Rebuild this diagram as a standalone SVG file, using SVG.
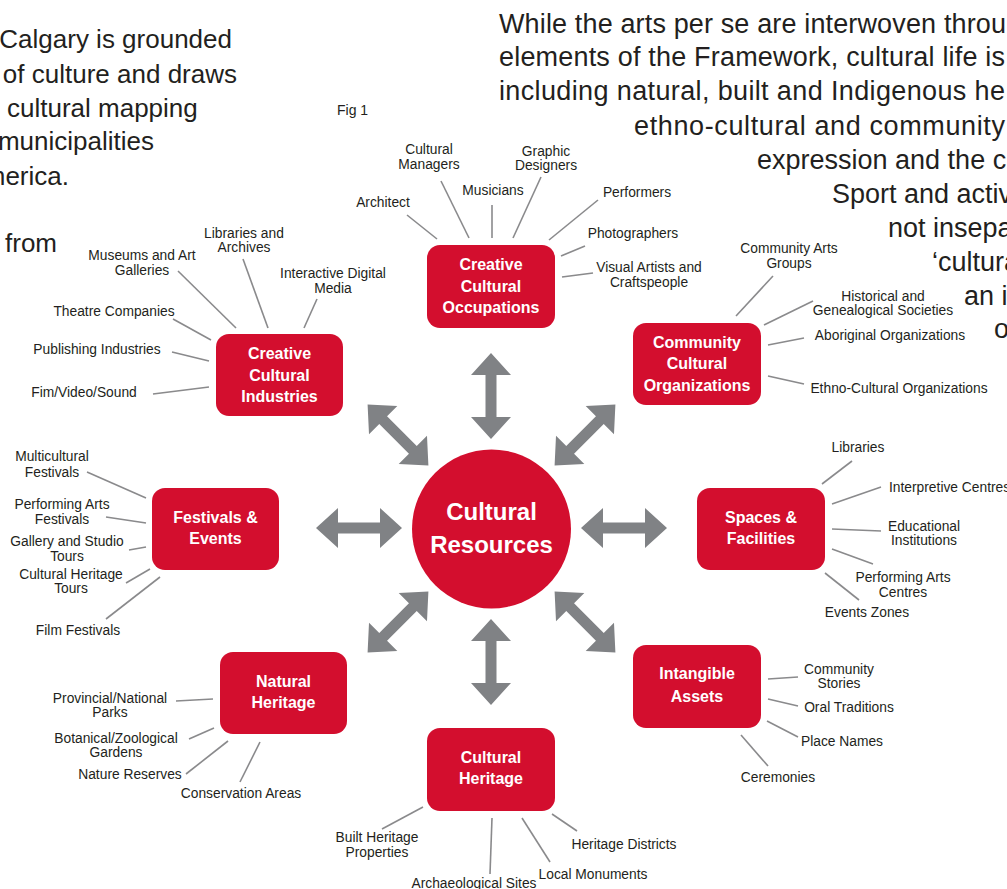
<svg xmlns="http://www.w3.org/2000/svg" width="1007" height="889" viewBox="0 0 1007 889">
<defs>
<style>
.body{font-family:"Liberation Sans",Arial,sans-serif;font-size:26px;fill:#231f20}
.bodyr{font-family:"Liberation Sans",Arial,sans-serif;font-size:27px;fill:#231f20}
.fig{font-family:"Liberation Sans",Arial,sans-serif;font-size:14px;fill:#231f20}
.lbl{font-family:"Liberation Sans",Arial,sans-serif;font-size:13.8px;fill:#231f20;text-anchor:middle}
.node rect{fill:#d30e2e}
.node circle{fill:#d30e2e}
.ntxt{font-family:"Liberation Sans",Arial,sans-serif;font-weight:bold;font-size:16px;fill:#fff;text-anchor:middle}
.ctxt{font-family:"Liberation Sans",Arial,sans-serif;font-weight:bold;font-size:24px;fill:#fff;text-anchor:middle}
.conn line{stroke:#8a8a8c;stroke-width:1.6}
.arr use{fill:#808285}
</style>
<polygon id="dbl" points="-43,0 -21,-20 -21,-5.5 21,-5.5 21,-20 43,0 21,20 21,5.5 -21,5.5 -21,20"/>
</defs>
<rect width="1007" height="889" fill="#fff"/>

<g id="body-text-left">
<text class="body" x="232" y="48" text-anchor="end">Calgary is grounded</text>
<text class="body" x="237" y="83" text-anchor="end">of culture and draws</text>
<text class="body" x="7" y="117">cultural mapping</text>
<text class="body" x="154" y="150" text-anchor="end">municipalities</text>
<text class="body" x="69" y="185" text-anchor="end">merica.</text>
<text class="body" x="5" y="252">from</text>
</g>

<g id="body-text-right">
<text class="bodyr" x="499" y="33" textLength="507">While the arts per se are interwoven throu</text>
<text class="bodyr" x="499" y="66" textLength="506">elements of the Framework, cultural life is</text>
<text class="bodyr" x="499" y="100" textLength="506">including natural, built and Indigenous he</text>
<text class="bodyr" x="634" y="135" textLength="371">ethno-cultural and community</text>
<text class="bodyr" x="757" y="169">expression and the c</text>
<text class="bodyr" x="832" y="203">Sport and activ</text>
<text class="bodyr" x="888" y="237">not insepa</text>
<text class="bodyr" x="932" y="271">‘cultura</text>
<text class="bodyr" x="964" y="305">an i</text>
<text class="bodyr" x="994" y="338">o</text>
</g>

<text id="fig-label" class="fig" x="337" y="115">Fig 1</text>

<g id="connectors" class="conn">
<line x1="407" y1="215" x2="437" y2="239"/>
<line x1="441" y1="181" x2="469" y2="238"/>
<line x1="492" y1="205" x2="492" y2="238"/>
<line x1="541" y1="177" x2="513" y2="238"/>
<line x1="598" y1="200" x2="549" y2="240"/>
<line x1="585" y1="246" x2="561" y2="256"/>
<line x1="593" y1="273" x2="562" y2="277"/>

<line x1="178" y1="271" x2="236" y2="328"/>
<line x1="243" y1="259" x2="268" y2="328"/>
<line x1="317" y1="299" x2="304" y2="328"/>
<line x1="173" y1="319" x2="211" y2="340"/>
<line x1="172" y1="352" x2="209" y2="361"/>
<line x1="153" y1="394" x2="209" y2="387"/>

<line x1="773" y1="276" x2="736" y2="316"/>
<line x1="813" y1="301" x2="764" y2="325"/>
<line x1="804" y1="338" x2="768" y2="345"/>
<line x1="804" y1="384" x2="768" y2="376"/>

<line x1="87" y1="472" x2="146" y2="498"/>
<line x1="106" y1="517" x2="146" y2="523"/>
<line x1="129" y1="550" x2="146" y2="547"/>
<line x1="126" y1="583" x2="150" y2="569"/>
<line x1="106" y1="619" x2="160" y2="577"/>

<line x1="852" y1="461" x2="822" y2="484"/>
<line x1="881" y1="487" x2="832" y2="504"/>
<line x1="881" y1="531" x2="832" y2="529"/>
<line x1="873" y1="564" x2="832" y2="549"/>
<line x1="859" y1="600" x2="825" y2="573"/>

<line x1="176" y1="701" x2="213" y2="699"/>
<line x1="189" y1="739" x2="214" y2="728"/>
<line x1="186" y1="774" x2="228" y2="741"/>
<line x1="240" y1="782" x2="260" y2="742"/>

<line x1="798" y1="677" x2="768" y2="679"/>
<line x1="798" y1="706" x2="768" y2="699"/>
<line x1="798" y1="737" x2="767" y2="721"/>
<line x1="768" y1="766" x2="741" y2="735"/>

<line x1="382" y1="829" x2="423" y2="807"/>
<line x1="490" y1="874" x2="492" y2="818"/>
<line x1="550" y1="862" x2="522" y2="818"/>
<line x1="577" y1="831" x2="552" y2="814"/>
</g>

<g id="arrows" class="arr">
<use href="#dbl" transform="translate(491,396) rotate(90)"/>
<use href="#dbl" transform="translate(491,662) rotate(90)"/>
<use href="#dbl" transform="translate(359,528)"/>
<use href="#dbl" transform="translate(624,528)"/>
<use href="#dbl" transform="translate(398,435) rotate(45)"/>
<use href="#dbl" transform="translate(585,435) rotate(-45)"/>
<use href="#dbl" transform="translate(398,622) rotate(-45)"/>
<use href="#dbl" transform="translate(585,622) rotate(45)"/>
</g>

<g id="cultural-resources" class="node">
<circle cx="491.5" cy="529" r="79.5"/>
<text class="ctxt" x="491.5" y="520">Cultural</text>
<text class="ctxt" x="491.5" y="553">Resources</text>
</g>

<g id="creative-cultural-occupations" class="node">
<rect x="427" y="245" width="128" height="83" rx="13"/>
<text class="ntxt" x="491" y="270">Creative</text>
<text class="ntxt" x="491" y="291.5">Cultural</text>
<text class="ntxt" x="491" y="313">Occupations</text>
<text class="lbl" x="383" y="207">Architect</text>
<text class="lbl" x="429" y="154">Cultural</text>
<text class="lbl" x="429" y="169">Managers</text>
<text class="lbl" x="493" y="195">Musicians</text>
<text class="lbl" x="546" y="156">Graphic</text>
<text class="lbl" x="546" y="170">Designers</text>
<text class="lbl" x="637" y="197">Performers</text>
<text class="lbl" x="633" y="238">Photographers</text>
<text class="lbl" x="649" y="272">Visual Artists and</text>
<text class="lbl" x="649" y="287">Craftspeople</text>
</g>

<g id="creative-cultural-industries" class="node">
<rect x="216" y="334" width="127" height="82" rx="13"/>
<text class="ntxt" x="279.5" y="359">Creative</text>
<text class="ntxt" x="279.5" y="381">Cultural</text>
<text class="ntxt" x="279.5" y="402">Industries</text>
<text class="lbl" x="142" y="260">Museums and Art</text>
<text class="lbl" x="142" y="275">Galleries</text>
<text class="lbl" x="244" y="238">Libraries and</text>
<text class="lbl" x="244" y="252">Archives</text>
<text class="lbl" x="333" y="278">Interactive Digital</text>
<text class="lbl" x="333" y="293">Media</text>
<text class="lbl" x="114" y="316">Theatre Companies</text>
<text class="lbl" x="97" y="354">Publishing Industries</text>
<text class="lbl" x="84" y="397">Fim/Video/Sound</text>
</g>

<g id="community-cultural-organizations" class="node">
<rect x="633" y="323" width="128" height="82" rx="13"/>
<text class="ntxt" x="697" y="347.5">Community</text>
<text class="ntxt" x="697" y="369">Cultural</text>
<text class="ntxt" x="697" y="390.5">Organizations</text>
<text class="lbl" x="789" y="253">Community Arts</text>
<text class="lbl" x="789" y="268">Groups</text>
<text class="lbl" x="883" y="301">Historical and</text>
<text class="lbl" x="883" y="315">Genealogical Societies</text>
<text class="lbl" x="890" y="340">Aboriginal Organizations</text>
<text class="lbl" x="899" y="393">Ethno-Cultural Organizations</text>
</g>

<g id="festivals-events" class="node">
<rect x="152" y="488" width="127" height="82" rx="13"/>
<text class="ntxt" x="215.5" y="523">Festivals &amp;</text>
<text class="ntxt" x="215.5" y="544">Events</text>
<text class="lbl" x="52" y="461">Multicultural</text>
<text class="lbl" x="52" y="477">Festivals</text>
<text class="lbl" x="62" y="509">Performing Arts</text>
<text class="lbl" x="62" y="524">Festivals</text>
<text class="lbl" x="67" y="546">Gallery and Studio</text>
<text class="lbl" x="67" y="561">Tours</text>
<text class="lbl" x="71" y="579">Cultural Heritage</text>
<text class="lbl" x="71" y="593">Tours</text>
<text class="lbl" x="78" y="635">Film Festivals</text>
</g>

<g id="spaces-facilities" class="node">
<rect x="697" y="488" width="128" height="82" rx="13"/>
<text class="ntxt" x="761" y="523">Spaces &amp;</text>
<text class="ntxt" x="761" y="544">Facilities</text>
<text class="lbl" x="858" y="452">Libraries</text>
<text class="lbl" x="889" y="492" style="text-anchor:start">Interpretive Centres</text>
<text class="lbl" x="924" y="531">Educational</text>
<text class="lbl" x="924" y="544.5">Institutions</text>
<text class="lbl" x="903" y="582">Performing Arts</text>
<text class="lbl" x="903" y="597">Centres</text>
<text class="lbl" x="867" y="617">Events Zones</text>
</g>

<g id="natural-heritage" class="node">
<rect x="220" y="652" width="127" height="82" rx="13"/>
<text class="ntxt" x="283.5" y="687">Natural</text>
<text class="ntxt" x="283.5" y="708">Heritage</text>
<text class="lbl" x="110" y="703">Provincial/National</text>
<text class="lbl" x="110" y="717">Parks</text>
<text class="lbl" x="116" y="743">Botanical/Zoological</text>
<text class="lbl" x="116" y="757">Gardens</text>
<text class="lbl" x="130" y="779">Nature Reserves</text>
<text class="lbl" x="241" y="798">Conservation Areas</text>
</g>

<g id="intangible-assets" class="node">
<rect x="633" y="645" width="128" height="83" rx="13"/>
<text class="ntxt" x="697" y="679">Intangible</text>
<text class="ntxt" x="697" y="701.5">Assets</text>
<text class="lbl" x="839" y="674">Community</text>
<text class="lbl" x="839" y="688">Stories</text>
<text class="lbl" x="849" y="712">Oral Traditions</text>
<text class="lbl" x="842" y="746">Place Names</text>
<text class="lbl" x="778" y="782">Ceremonies</text>
</g>

<g id="cultural-heritage" class="node">
<rect x="427" y="728" width="128" height="83" rx="13"/>
<text class="ntxt" x="491" y="763">Cultural</text>
<text class="ntxt" x="491" y="784">Heritage</text>
<text class="lbl" x="377" y="842">Built Heritage</text>
<text class="lbl" x="377" y="857">Properties</text>
<text class="lbl" x="474" y="888">Archaeological Sites</text>
<text class="lbl" x="593" y="879">Local Monuments</text>
<text class="lbl" x="624" y="849">Heritage Districts</text>
</g>
</svg>
